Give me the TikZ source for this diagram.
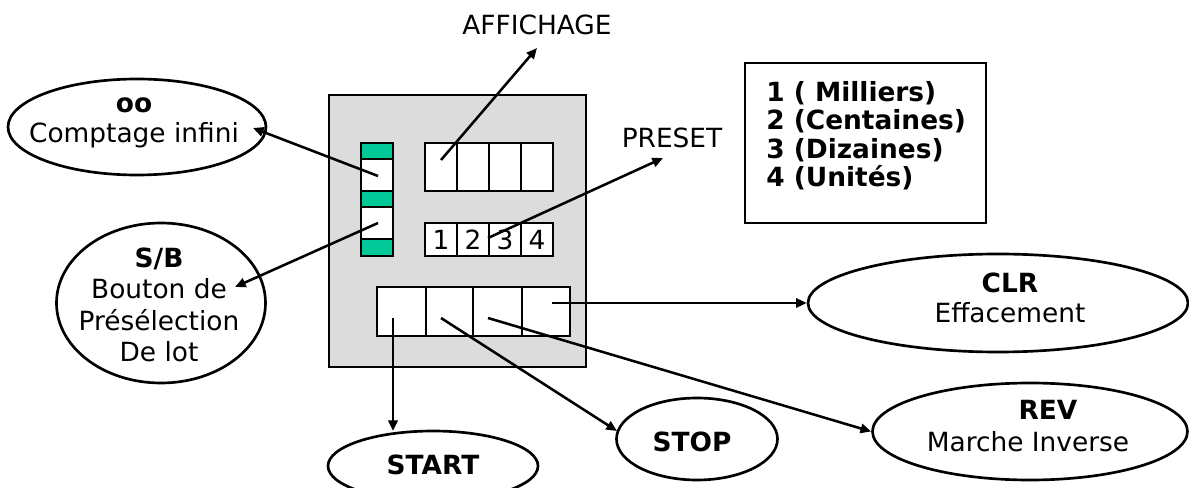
\documentclass[tikz,border=0pt]{standalone}
\usepackage{fontspec}
\setmainfont{DejaVu Sans}
\usetikzlibrary{shapes.geometric,arrows.meta}
\definecolor{panelgray}{RGB}{220,220,220}
\definecolor{keygreen}{RGB}{0,200,150}
\begin{document}
\begin{tikzpicture}[x=0.75pt,y=-0.75pt,
  font=\fontsize{19.8}{23}\selectfont,
  frame/.style={draw=black,line width=2.2pt},
  oval/.style={draw=black,ellipse,line width=2pt,inner sep=0pt},
  txt/.style={inner sep=0pt,align=center},
  conn/.style={draw=black,line width=1.9pt,-{Triangle[length=8pt,width=7pt]}}]
\useasboundingbox (0,0) rectangle (1189,488);

% panel
\draw[frame,fill=panelgray] (329,95) rectangle (586,367);

% selector column
\draw[frame,fill=keygreen] (361,143) rectangle (393,159);
\draw[frame,fill=white]    (361,159) rectangle (393,191);
\draw[frame,fill=keygreen] (361,191) rectangle (393,207);
\draw[frame,fill=white]    (361,207) rectangle (393,239);
\draw[frame,fill=keygreen] (361,239) rectangle (393,256);

% display
\draw[frame,fill=white] (425,143) rectangle (553,191);
\draw[frame] (457,143) -- (457,191) (489,143) -- (489,191) (521,143) -- (521,191);

% preset digits
\draw[frame,fill=white] (425,223) rectangle (553,256);
\draw[frame] (457,223) -- (457,256) (489,223) -- (489,256) (521,223) -- (521,256);
\node[txt] (d1) at (441,240) {1};
\node[txt] (d2) at (473,240) {2};
\node[txt] (d3) at (505,240) {3};
\node[txt] (d4) at (537,240) {4};

% buttons
\draw[frame,fill=white] (377,287) rectangle (570,336);
\draw[frame] (426,287) -- (426,336) (473,287) -- (473,336) (522,287) -- (522,336);

% legend
\draw[frame] (745,63) rectangle (986,223);
\node[inner sep=0pt,align=left,anchor=north west,font=\fontsize{19.8}{21.3}\selectfont\bfseries] (legend) at (766,81)
  {1 ( Milliers)\\2 (Centaines)\\3 (Dizaines)\\4 (Unités)};

% labels
\node[txt] (affichage) at (537,25) {AFFICHAGE};
\node[txt] (preset) at (672,137.5) {PRESET};

% ellipses
\node[oval,minimum width=258*0.75pt,minimum height=96*0.75pt] (oo) at (137,127) {};
\node[txt] (ootext) at (134,123) {\textbf{oo}\\Comptage infini};
\node[oval,minimum width=209*0.75pt,minimum height=160*0.75pt] (sb) at (161,303) {};
\node[txt,font=\fontsize{19.8}{23.5}\selectfont] (sbtext) at (159,305) {\textbf{S/B}\\Bouton de\\Présélection\\De lot};
\node[oval,minimum width=210*0.75pt,minimum height=70*0.75pt] (start) at (433,466) {};
\node[txt,font=\fontsize{19.8}{23}\selectfont\bfseries] (starttext) at (433,465) {START};
\node[oval,minimum width=161*0.75pt,minimum height=82*0.75pt] (stop) at (697,439) {};
\node[txt,font=\fontsize{19.8}{23}\selectfont\bfseries] (stoptext) at (692,442) {STOP};
\node[oval,minimum width=380*0.75pt,minimum height=98*0.75pt] (clr) at (998,303) {};
\node[txt] (clrtext) at (1010,298) {\textbf{CLR}\\Effacement};
\node[oval,minimum width=315*0.75pt,minimum height=97*0.75pt] (rev) at (1030,431.5) {};
\node[txt] (revtitle) at (1048,410) {\textbf{REV}};
\node[txt] (revtext) at (1028,442) {Marche Inverse};

% connector end points
\coordinate (affS) at (441,160);
\coordinate (affT) at (537,48);
\coordinate (preS) at (488,238);
\coordinate (preT) at (663,158);
\coordinate (ooS) at (378,176);
\coordinate (ooT) at (253,128);
\coordinate (sbS) at (378,223);
\coordinate (sbT) at (235,287);
\coordinate (startS) at (393,318);
\coordinate (startT) at (393,431);
\coordinate (stopS) at (441,318);
\coordinate (stopT) at (617,431);
\coordinate (revS) at (488,318);
\coordinate (clrS) at (552,303);

\draw[conn] (affS) -- (affT);
\draw[conn] (preS) -- (preT);
\draw[conn] (ooS) -- (ooT);
\draw[conn] (sbS) -- (sbT);
\draw[conn] (startS) -- (startT);
\draw[conn] (stopS) -- (stopT);
\draw[conn] (revS) -- (rev.west);
\draw[conn] (clrS) -- (clr.west);
\end{tikzpicture}
\end{document}
